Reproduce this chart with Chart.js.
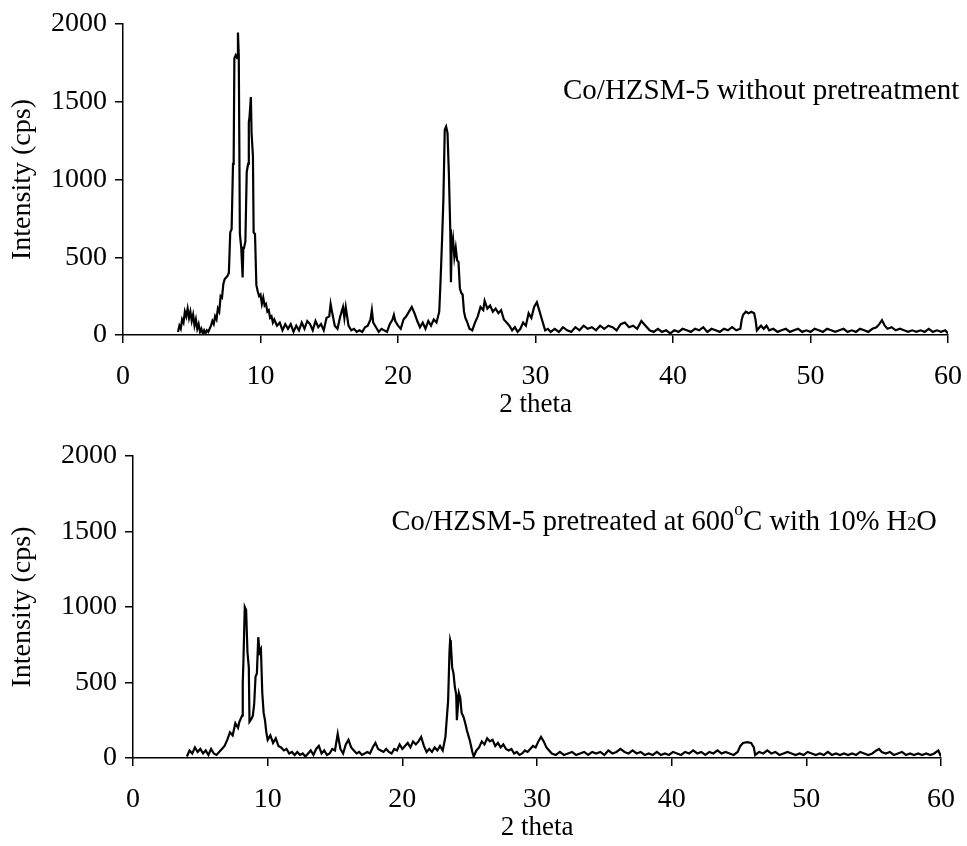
<!DOCTYPE html>
<html>
<head>
<meta charset="utf-8">
<script src="https://cdn.jsdelivr.net/npm/chart.js@4.4.1/dist/chart.umd.min.js"></script>
<style>
body { margin: 0; background: #fff; }
#wrap { position: relative; width: 967px; height: 846px; }
canvas { position: absolute; left: 0; }
</style>
</head>
<body>
<div id="wrap">
  <canvas id="topChart" width="967" height="423" style="top:0"></canvas>
  <canvas id="bottomChart" width="967" height="423" style="top:423px"></canvas>
</div>
<script>
// 2 theta ticks / intensity ticks
var xTicks = [0, 10, 20, 30, 40, 50, 60];
var yTicks = [0, 500, 1000, 1500, 2000];

// Co/HZSM-5 without pretreatment
var topAngle = [
  4.0,4.1,4.2,4.3,4.4,4.5,4.6,4.7,4.8,4.9,5.0,5.1,5.2,5.3,5.4,5.5,5.6,5.7,5.8,5.9,
  6.0,6.1,6.2,6.3,6.4,6.5,6.6,6.7,6.8,6.9,7.0,7.1,7.2,7.3,7.4,7.5,7.6,7.7,
  7.8,7.9,8.0,8.05,8.1,8.2,8.3,8.36,8.42,8.5,8.6,8.7,8.75,8.8,8.9,9.0,9.1,9.15,9.2,9.3,9.35,9.45,9.5,9.6,
  9.7,9.8,9.9,10.0,10.1,10.2,10.3,10.4,10.5,10.6,10.7,10.8,10.9,11.0,
  11.2,11.4,11.6,11.8,12.0,12.2,12.4,12.6,12.8,13.0,13.2,13.4,13.6,13.8,14.0,14.2,14.4,14.6,14.8,
  15.0,15.1,15.2,15.4,15.6,15.8,16.0,16.1,16.2,16.4,16.6,16.8,17.0,17.2,17.4,17.6,17.8,18.0,18.1,18.2,18.4,18.6,18.8,19.0,
  19.2,19.4,19.6,19.7,19.8,20.0,20.2,20.4,20.6,20.8,21.0,21.2,21.4,21.6,21.8,22.0,22.2,22.4,22.6,22.8,23.0,
  23.1,23.2,23.3,23.4,23.5,23.6,23.7,23.8,23.85,23.9,24.0,24.1,24.2,24.3,24.4,24.5,24.6,24.7,24.8,24.9,25.0,
  25.2,25.4,25.6,25.8,26.0,26.2,26.3,26.5,26.7,26.9,27.1,27.3,27.5,27.7,27.9,28.1,28.3,28.5,28.7,28.9,
  29.1,29.3,29.5,29.7,29.9,30.1,30.3,30.5,30.7,30.9,
  31.1,31.4,31.7,32.0,32.3,32.6,32.9,33.2,33.5,33.8,34.1,34.4,34.7,35.0,35.3,35.6,35.9,36.2,36.5,36.8,
  37.1,37.4,37.7,38.0,38.3,38.6,38.9,39.2,39.5,39.8,40.1,40.4,40.7,41.0,41.3,41.6,41.9,42.2,42.5,42.8,
  43.1,43.4,43.7,44.0,44.3,44.6,44.9,45.0,45.1,45.3,45.5,45.7,45.9,46.0,46.1,46.4,46.6,46.8,47.0,
  47.3,47.6,47.9,48.2,48.5,48.8,49.1,49.4,49.7,50.0,50.3,50.6,50.9,51.2,51.5,51.8,52.1,52.4,52.7,
  53.0,53.3,53.6,53.9,54.2,54.5,54.8,55.0,55.2,55.4,55.6,55.9,56.2,56.5,56.8,57.1,57.4,57.7,58.0,58.3,58.6,58.9,59.2,59.5,59.8,60.0
];
var topCps = [
  20,60,40,100,80,150,120,170,110,150,90,130,60,100,40,70,20,40,10,30,
  10,30,20,40,60,90,70,120,100,170,150,250,240,330,360,370,380,400,
  660,680,1100,1150,1780,1800,1780,1945,1800,650,560,370,560,560,600,1050,1100,1370,1400,1530,1300,1150,660,650,
  320,280,250,260,200,240,190,200,150,160,110,120,80,100,
  60,80,30,70,40,70,20,60,30,80,40,90,70,30,90,50,70,30,110,
  120,200,150,60,40,120,180,110,180,60,30,40,20,30,20,50,60,100,160,80,50,20,40,30,
  20,70,100,130,90,60,40,100,120,150,180,140,90,50,80,40,90,60,100,80,150,
  360,600,870,1320,1340,1300,1040,680,340,560,620,500,560,480,470,300,270,260,150,110,90,
  40,30,80,120,180,160,220,170,190,150,170,140,160,100,80,60,30,50,20,40,
  80,60,140,110,180,210,150,90,30,40,
  20,40,20,50,30,20,50,30,60,40,50,30,60,40,60,50,30,70,80,50,
  60,40,90,60,30,20,40,20,30,10,30,20,40,30,20,40,30,50,20,40,
  30,20,40,30,50,30,40,100,130,150,140,150,140,100,30,60,40,60,30,
  40,20,30,40,20,30,40,20,30,20,40,30,20,40,30,20,30,40,20,
  30,20,40,30,20,40,50,70,95,60,40,50,30,40,30,20,30,20,30,20,40,20,30,20,30,10
];

// Co/HZSM-5 pretreated at 600 C with 10% H2O
var botAngle = [
  4.0,4.2,4.4,4.6,4.8,5.0,5.2,5.4,5.6,5.8,6.0,6.2,6.4,6.6,6.8,
  7.0,7.2,7.4,7.6,7.8,7.9,8.0,8.1,8.15,8.2,8.3,8.4,8.5,8.6,8.65,8.8,8.9,9.0,
  9.1,9.2,9.3,9.4,9.5,9.6,9.7,9.8,9.9,10.0,
  10.2,10.4,10.6,10.8,11.0,11.2,11.4,11.6,11.8,12.0,12.2,12.4,12.6,12.8,13.0,13.2,13.4,13.6,13.8,14.0,14.2,14.4,14.6,14.8,
  15.0,15.2,15.4,15.6,15.8,16.0,16.2,16.4,16.6,16.8,17.0,17.2,17.4,17.6,17.8,18.0,18.2,18.4,18.6,18.8,19.0,19.2,19.4,19.6,19.8,
  20.0,20.2,20.4,20.6,20.8,21.0,21.2,21.4,21.6,21.8,22.0,22.2,22.4,22.6,22.8,23.0,23.2,
  23.4,23.5,23.55,23.6,23.7,23.8,23.9,24.0,24.05,24.2,24.3,24.4,24.55,24.7,24.8,25.0,
  25.2,25.3,25.5,25.7,25.9,26.1,26.3,26.5,26.7,26.9,27.1,27.3,27.5,27.7,27.9,28.1,28.3,28.5,28.7,28.9,
  29.1,29.3,29.5,29.7,29.9,30.1,30.3,30.5,30.7,30.9,
  31.1,31.4,31.7,32.0,32.3,32.6,32.9,33.2,33.5,33.8,34.1,34.4,34.7,35.0,35.3,35.6,35.9,36.2,36.5,36.8,
  37.1,37.4,37.7,38.0,38.3,38.6,38.9,39.2,39.5,39.8,40.1,40.4,40.7,41.0,41.3,41.6,41.9,42.2,42.5,42.8,
  43.1,43.4,43.7,44.0,44.3,44.6,44.9,45.1,45.3,45.6,45.9,46.1,46.2,46.5,46.8,47.1,
  47.4,47.7,48.0,48.3,48.6,48.9,49.2,49.5,49.8,50.1,50.4,50.7,51.0,51.3,51.6,51.9,52.2,52.5,52.8,
  53.1,53.4,53.7,54.0,54.3,54.6,54.9,55.2,55.4,55.6,55.9,56.2,56.5,56.8,57.1,57.4,57.7,58.0,58.3,58.6,58.9,59.2,59.5,59.8,60.0
];
var botCps = [
  10,50,30,70,40,60,30,50,20,60,30,20,40,60,80,
  120,170,150,230,200,240,260,280,500,640,1000,980,700,600,240,260,280,360,
  540,560,800,700,720,430,300,250,170,120,
  150,100,130,80,70,50,60,30,40,20,40,20,30,10,30,50,20,60,80,30,50,20,30,60,
  50,160,60,30,90,120,70,50,30,40,20,30,40,30,70,100,60,50,40,60,40,30,60,50,90,
  60,80,100,70,110,90,110,140,80,40,60,40,70,50,80,50,140,
  380,700,780,760,600,560,470,420,250,430,400,300,270,220,180,120,
  40,10,50,70,110,90,130,110,120,80,100,70,90,60,50,60,30,40,20,30,
  50,40,60,80,70,110,140,110,70,50,
  30,20,40,20,30,40,20,30,40,20,40,30,40,20,50,30,40,60,40,30,
  50,30,40,20,30,20,40,20,30,20,40,30,20,40,30,50,30,40,20,40,
  30,50,30,40,30,20,40,80,100,105,100,70,20,40,30,50,
  30,40,20,30,40,30,20,30,20,40,30,20,30,20,40,20,30,20,30,
  20,30,20,40,30,20,30,50,60,40,30,40,20,30,40,20,30,20,30,20,30,20,30,50,10
];

var serif = 'Liberation Serif';

// sample label, drawn piece by piece so the degree sign and the 2 can be small
function notePlugin(at, size, parts) {
  return {
    id: 'note',
    afterDraw: function(chart) {
      var c = chart.ctx;
      var x = chart.scales.x.getPixelForValue(at[0]);
      var y = chart.scales.y.getPixelForValue(at[1]);
      c.save();
      c.fillStyle = '#000';
      c.textAlign = 'left';
      c.textBaseline = 'alphabetic';
      for (var i = 0; i < parts.length; i++) {
        var p = parts[i];
        c.font = (p.size || size) + 'px "' + serif + '"';
        c.fillText(p.text, x, y + (p.shift || 0));
        x += c.measureText(p.text).width;
      }
      c.restore();
    }
  };
}

function makeChart(id, angle, cps, axisLeft, padRight, padTop, note) {
  var points = angle.map(function(a, i) { return {x: a, y: cps[i]}; });
  return new Chart(document.getElementById(id), {
    type: 'line',
    data: {
      datasets: [{
        data: points,
        borderColor: '#000',
        borderWidth: 2.2,
        pointRadius: 0,
        tension: 0,
        fill: false
      }]
    },
    options: {
      responsive: false,
      animation: false,
      devicePixelRatio: 1,
      layout: { padding: { left: 0, right: padRight, top: padTop, bottom: 0 } },
      plugins: { legend: { display: false }, tooltip: { enabled: false } },
      scales: {
        x: {
          type: 'linear', min: 0, max: 60,
          afterBuildTicks: function(s) { s.ticks = xTicks.map(function(v) { return {value: v}; }); },
          afterFit: function(s) { s.height = 88; s.paddingLeft = 0; s.paddingRight = 0; },
          ticks: { color: '#000', font: { family: serif, size: 28 }, padding: 17, maxRotation: 0,
                   callback: function(v) { return String(v); } },
          grid: { drawOnChartArea: false, color: '#000', tickLength: 8, lineWidth: 1.5 },
          border: { color: '#000', width: 1.5 },
          title: { display: true, text: '2 theta', color: '#000', font: { family: serif, size: 27 }, padding: { bottom: 2 } }
        },
        y: {
          min: 0, max: 2000,
          afterBuildTicks: function(s) { s.ticks = yTicks.map(function(v) { return {value: v}; }); },
          afterFit: function(s) { s.width = axisLeft; s.paddingTop = 0; s.paddingBottom = 0; },
          ticks: { color: '#000', font: { family: serif, size: 28 }, padding: 8,
                   callback: function(v) { return String(v); } },
          grid: { drawOnChartArea: false, color: '#000', tickLength: 8, lineWidth: 1.5 },
          border: { color: '#000', width: 1.5 },
          title: { display: true, text: 'Intensity (cps)', color: '#000', font: { family: serif, size: 28 }, padding: { top: 6 } }
        }
      }
    },
    plugins: [note]
  });
}

makeChart('topChart', topAngle, topCps, 123, 19, 24,
  notePlugin([32.0, 1520], 29, [{ text: 'Co/HZSM-5 without pretreatment' }]));

makeChart('bottomChart', botAngle, botCps, 133, 26, 33,
  notePlugin([19.2, 1510], 28.5, [
    { text: 'Co/HZSM-5 pretreated at 600' },
    { text: 'o', size: 18, shift: -15 },
    { text: 'C with 10%' },
    { text: ' H' },
    { text: '2', size: 18 },
    { text: 'O' }
  ]));
</script>
</body>
</html>
